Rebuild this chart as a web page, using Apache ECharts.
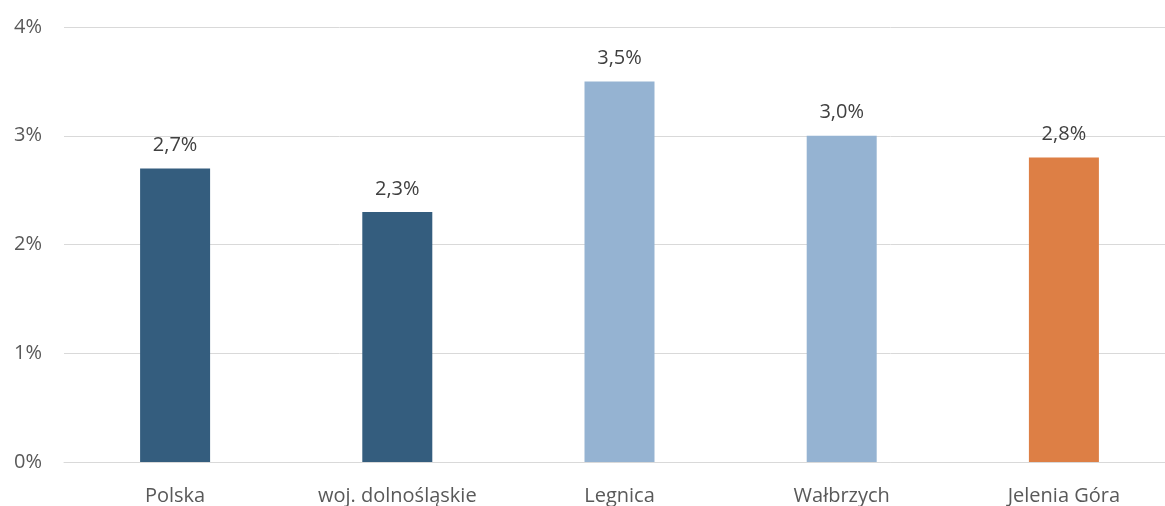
<!DOCTYPE html>
<html>
<head>
<meta charset="utf-8">
<script src="https://cdn.jsdelivr.net/npm/echarts@6/dist/echarts.min.js"></script>
<style>
html,body{margin:0;padding:0;background:#fff;}
#main{width:1165px;height:506px;}
</style>
</head>
<body>
<div id="main"></div>
<script>
const categories = ["Polska", "woj. dolnośląskie", "Legnica", "Wałbrzych", "Jelenia Góra"];
const values = [2.7, 2.3, 3.5, 3.0, 2.8];
const barColors = ["#345D7E", "#345D7E", "#95B3D2", "#95B3D2", "#DD7F45"];
const yTicks = [0, 1, 2, 3, 4];

const chart = echarts.init(document.getElementById('main'));
chart.setOption({
  animation: false,
  grid: { left: 64, top: 27, width: 1111, height: 435, outerBoundsMode: 'none', containLabel: false },
  xAxis: {
    type: 'category',
    data: categories,
    axisLine: { show: true, lineStyle: { color: '#D9D9D9', width: 1 } },
    axisTick: { show: false },
    axisLabel: { color: '#595959', fontSize: 20, fontFamily: 'Open Sans', margin: 24 }
  },
  yAxis: {
    type: 'value',
    min: yTicks[0], max: yTicks[yTicks.length - 1], interval: 1,
    axisLine: { show: false },
    axisTick: { show: false },
    splitLine: { lineStyle: { color: '#D9D9D9', width: 1 } },
    axisLabel: { color: '#595959', fontSize: 20, fontFamily: 'Open Sans', margin: 22,
      formatter: v => v + '%' }
  },
  series: [{
    type: 'bar',
    barWidth: 70,
    data: values.map((v, i) => ({ value: v, itemStyle: { color: barColors[i] } })),
    label: {
      show: true, position: 'top', distance: 13,
      color: '#404040', fontSize: 20, fontFamily: 'Open Sans',
      formatter: p => p.value.toFixed(1).replace('.', ',') + '%'
    }
  }]
});
</script>
</body>
</html>
